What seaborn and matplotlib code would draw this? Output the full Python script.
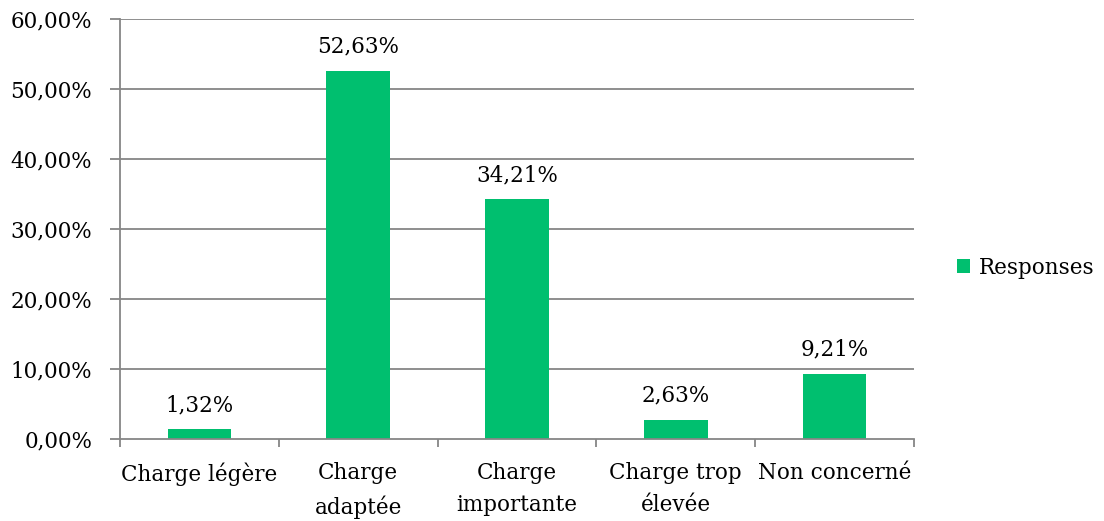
import matplotlib
matplotlib.use("Agg")
import matplotlib.pyplot as plt
import seaborn as sns
import pandas as pd
from matplotlib.patches import Patch

categories = ["Charge légère", "Charge\nadaptée", "Charge\nimportante", "Charge trop\nélevée", "Non concerné"]
values = [1.32, 52.63, 34.21, 2.63, 9.21]
yticks = [0, 10, 20, 30, 40, 50, 60]
series_name = "Responses"

sns.set_theme(style="white")
plt.rcParams['font.family'] = ['DejaVu Serif']

color = "#00BF6F"
grid_c = "#868686"
fs = 15.5

fig = plt.figure(figsize=(11.04, 5.21), dpi=100)
ax = fig.add_axes([0.1087, 0.1583, 0.7192, 0.8052])
df = pd.DataFrame({"cat": categories, "val": values})
sns.barplot(data=df, x="cat", y="val", color=color, width=0.4, saturation=1, linewidth=0, ax=ax)

ax.set_xlim(-0.5, len(categories) - 0.5)
ax.set_ylim(0, 60)
ax.set_xlabel("")
ax.set_ylabel("")
ax.set_yticks(yticks)
ax.set_yticklabels([f"{v:.2f}".replace(".", ",") + "%" for v in yticks], fontsize=fs, color="black")
for y in yticks[1:]:
    ax.axhline(y, color=grid_c, lw=1.3, zorder=0)

ax.set_xticks([i - 0.5 for i in range(len(categories) + 1)])
ax.set_xticklabels([])
ax.set_xticks(range(len(categories)), minor=True)
ax.set_xticklabels(categories, minor=True, fontsize=fs, color="black", linespacing=1.6)
ax.tick_params(axis="x", which="major", length=6, width=1.3, color=grid_c, direction="out", bottom=True)
ax.tick_params(axis="x", which="minor", length=0, pad=17)
ax.tick_params(axis="y", length=7, width=1.3, color=grid_c, direction="out", left=True, pad=13)

for s in ["top", "right"]:
    ax.spines[s].set_visible(False)
for s in ["left", "bottom"]:
    ax.spines[s].set_color(grid_c)
    ax.spines[s].set_linewidth(1.3)

for i, v in enumerate(values):
    ax.text(i, v + 1.9, f"{v:.2f}".replace(".", ",") + "%", ha="center", va="bottom", fontsize=fs, color="black")

handles = [Patch(facecolor=color, edgecolor="none", label=series_name)]
fig.legend(handles=handles, loc="center left", bbox_to_anchor=(0.867, 0.486), frameon=False,
           fontsize=fs, handlelength=0.6, handleheight=0.6, handletextpad=0.4, borderaxespad=0, borderpad=0,
           labelcolor="black")

fig.savefig("out.png", dpi=100, facecolor="white")
